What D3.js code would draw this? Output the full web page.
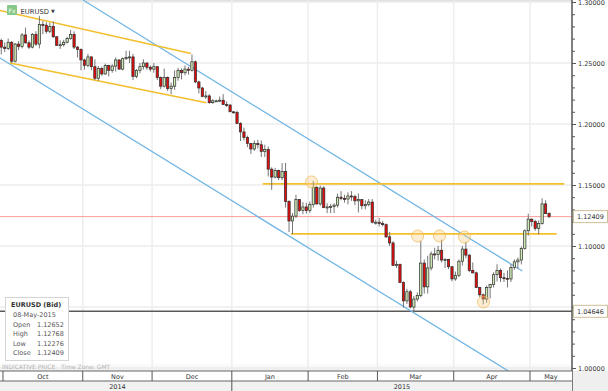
<!DOCTYPE html>
<html>
<head>
<meta charset="utf-8">
<script src="https://cdn.jsdelivr.net/npm/d3@7"></script>
<style>
  body { margin: 0; background: #fff; }
  svg { display: block; font-family: "DejaVu Sans", Verdana, sans-serif; }
</style>
</head>
<body>
<div id="chart"></div>
<script>
// ---- data ----
const symbol = "EURUSD";
const firstDay = "2014-09-30";
const lastDay = "2015-05-08";

// daily OHLC, one value per weekday from firstDay to lastDay
const opens = [
  1.2685, 1.2630, 1.2620, 1.2670, 1.2515, 1.2655, 1.2635, 1.2730, 1.2665, 1.2630,
  1.2735, 1.2655, 1.2815, 1.2810, 1.2760, 1.2800, 1.2715, 1.2645, 1.2650, 1.2670,
  1.2700, 1.2735, 1.2630, 1.2610, 1.2525, 1.2480, 1.2550, 1.2470, 1.2375, 1.2455,
  1.2410, 1.2480, 1.2440, 1.2475, 1.2525, 1.2450, 1.2535, 1.2545, 1.2550, 1.2390,
  1.2440, 1.2470, 1.2500, 1.2465, 1.2450, 1.2470, 1.2380, 1.2310, 1.2380, 1.2290,
  1.2310, 1.2380, 1.2440, 1.2420, 1.2450, 1.2440, 1.2510, 1.2345, 1.2295, 1.2225,
  1.2230, 1.2175, 1.2190, 1.2190, 1.2195, 1.2160, 1.2155, 1.2100, 1.2095, 1.2005,
  1.1935, 1.1890, 1.1840, 1.1795, 1.1840, 1.1830, 1.1775, 1.1790, 1.1630, 1.1565,
  1.1620, 1.1560, 1.1610, 1.1365, 1.1205, 1.1245, 1.1380, 1.1290, 1.1320, 1.1290,
  1.1340, 1.1480, 1.1345, 1.1475, 1.1315, 1.1320, 1.1325, 1.1335, 1.1400, 1.1390,
  1.1385, 1.1410, 1.1405, 1.1370, 1.1380, 1.1330, 1.1340, 1.1360, 1.1195, 1.1195,
  1.1185, 1.1175, 1.1075, 1.1025, 1.0840, 1.0850, 1.0700, 1.0550, 1.0625, 1.0500,
  1.0565, 1.0595, 1.0860, 1.0665, 1.0820, 1.0935, 1.0930, 1.0965, 1.0885, 1.0890,
  1.0830, 1.0730, 1.0760, 1.0875, 1.0975, 1.0925, 1.0800, 1.0780, 1.0660, 1.0600,
  1.0565, 1.0660, 1.0685, 1.0765, 1.0800, 1.0740, 1.0735, 1.0730, 1.0825, 1.0870,
  1.0885, 1.0980, 1.1125, 1.1220, 1.1200, 1.1145, 1.1185, 1.1345, 1.12652
];
const highs = [
  1.2700, 1.2668, 1.2700, 1.2680, 1.2665, 1.2680, 1.2745, 1.2790, 1.2685, 1.2745,
  1.2760, 1.2887, 1.2845, 1.2835, 1.2830, 1.2840, 1.2720, 1.2685, 1.2690, 1.2715,
  1.2770, 1.2760, 1.2640, 1.2620, 1.2535, 1.2575, 1.2555, 1.2530, 1.2475, 1.2470,
  1.2495, 1.2485, 1.2490, 1.2545, 1.2530, 1.2545, 1.2600, 1.2600, 1.2575, 1.2450,
  1.2500, 1.2530, 1.2505, 1.2480, 1.2500, 1.2475, 1.2390, 1.2455, 1.2390, 1.2340,
  1.2440, 1.2460, 1.2455, 1.2480, 1.2470, 1.2570, 1.2520, 1.2355, 1.2305, 1.2270,
  1.2245, 1.2205, 1.2200, 1.2225, 1.2245, 1.2185, 1.2165, 1.2105, 1.2110, 1.2015,
  1.1970, 1.1905, 1.1845, 1.1865, 1.1870, 1.1865, 1.1830, 1.1815, 1.1645, 1.1640,
  1.1625, 1.1680, 1.1680, 1.1375, 1.1270, 1.1420, 1.1385, 1.1360, 1.1355, 1.1365,
  1.1534, 1.1490, 1.1495, 1.1490, 1.1350, 1.1345, 1.1350, 1.1430, 1.1450, 1.1420,
  1.1440, 1.1450, 1.1420, 1.1430, 1.1385, 1.1375, 1.1385, 1.1385, 1.1215, 1.1230,
  1.1205, 1.1185, 1.1115, 1.1040, 1.0880, 1.0855, 1.0710, 1.0650, 1.0640, 1.0590,
  1.0620, 1.1043, 1.0890, 1.0920, 1.0955, 1.0985, 1.1000, 1.1052, 1.0900, 1.0895,
  1.0835, 1.0790, 1.0890, 1.1000, 1.1035, 1.0935, 1.0865, 1.0790, 1.0665, 1.0610,
  1.0675, 1.0690, 1.0785, 1.0850, 1.0815, 1.0780, 1.0800, 1.0850, 1.0890, 1.0905,
  1.0995, 1.1135, 1.1265, 1.1225, 1.1215, 1.1210, 1.1391, 1.1375, 1.12768
];
const lows = [
  1.2570, 1.2590, 1.2605, 1.2500, 1.2505, 1.2605, 1.2620, 1.2660, 1.2615, 1.2620,
  1.2640, 1.2620, 1.2735, 1.2740, 1.2745, 1.2705, 1.2640, 1.2615, 1.2635, 1.2660,
  1.2690, 1.2615, 1.2545, 1.2440, 1.2445, 1.2465, 1.2440, 1.2360, 1.2355, 1.2395,
  1.2405, 1.2390, 1.2420, 1.2430, 1.2445, 1.2440, 1.2525, 1.2500, 1.2360, 1.2375,
  1.2415, 1.2445, 1.2445, 1.2430, 1.2420, 1.2360, 1.2285, 1.2300, 1.2270, 1.2245,
  1.2280, 1.2355, 1.2365, 1.2400, 1.2405, 1.2430, 1.2335, 1.2250, 1.2220, 1.2205,
  1.2165, 1.2165, 1.2180, 1.2180, 1.2155, 1.2140, 1.2100, 1.2085, 1.2000, 1.1860,
  1.1865, 1.1810, 1.1755, 1.1780, 1.1800, 1.1730, 1.1730, 1.1570, 1.1460, 1.1555,
  1.1540, 1.1540, 1.1315, 1.1115, 1.1098, 1.1230, 1.1280, 1.1260, 1.1265, 1.1270,
  1.1315, 1.1340, 1.1330, 1.1310, 1.1270, 1.1270, 1.1270, 1.1315, 1.1375, 1.1355,
  1.1340, 1.1370, 1.1335, 1.1275, 1.1300, 1.1300, 1.1325, 1.1185, 1.1175, 1.1160,
  1.1160, 1.1065, 1.1000, 1.0840, 1.0820, 1.0695, 1.0495, 1.0525, 1.0490, 1.0462,
  1.0545, 1.0580, 1.0610, 1.0610, 1.0800, 1.0890, 1.0880, 1.0865, 1.0820, 1.0810,
  1.0710, 1.0715, 1.0745, 1.0840, 1.0900, 1.0785, 1.0775, 1.0655, 1.0580, 1.0521,
  1.0535, 1.0570, 1.0660, 1.0710, 1.0705, 1.0705, 1.0660, 1.0705, 1.0805, 1.0815,
  1.0850, 1.0970, 1.1085, 1.1160, 1.1125, 1.1095, 1.1175, 1.1265, 1.12276
];
const closes = [
  1.2630, 1.2620, 1.2670, 1.2515, 1.2655, 1.2635, 1.2730, 1.2665, 1.2630, 1.2735,
  1.2655, 1.2815, 1.2810, 1.2760, 1.2800, 1.2715, 1.2645, 1.2650, 1.2670, 1.2700,
  1.2735, 1.2630, 1.2610, 1.2525, 1.2480, 1.2550, 1.2470, 1.2375, 1.2455, 1.2410,
  1.2480, 1.2440, 1.2475, 1.2525, 1.2450, 1.2535, 1.2545, 1.2550, 1.2390, 1.2440,
  1.2470, 1.2500, 1.2465, 1.2450, 1.2470, 1.2380, 1.2310, 1.2380, 1.2290, 1.2310,
  1.2380, 1.2440, 1.2420, 1.2450, 1.2440, 1.2510, 1.2345, 1.2295, 1.2225, 1.2230,
  1.2175, 1.2190, 1.2190, 1.2195, 1.2160, 1.2155, 1.2100, 1.2095, 1.2005, 1.1935,
  1.1890, 1.1840, 1.1795, 1.1840, 1.1830, 1.1775, 1.1790, 1.1630, 1.1565, 1.1620,
  1.1560, 1.1610, 1.1365, 1.1205, 1.1245, 1.1380, 1.1290, 1.1320, 1.1290, 1.1340,
  1.1480, 1.1345, 1.1475, 1.1315, 1.1320, 1.1325, 1.1335, 1.1400, 1.1390, 1.1385,
  1.1410, 1.1405, 1.1370, 1.1380, 1.1330, 1.1340, 1.1360, 1.1195, 1.1195, 1.1185,
  1.1175, 1.1075, 1.1025, 1.0840, 1.0850, 1.0700, 1.0550, 1.0625, 1.0500, 1.0565,
  1.0595, 1.0860, 1.0665, 1.0820, 1.0935, 1.0930, 1.0965, 1.0885, 1.0890, 1.0830,
  1.0730, 1.0760, 1.0875, 1.0975, 1.0925, 1.0800, 1.0780, 1.0660, 1.0600, 1.0565,
  1.0660, 1.0685, 1.0765, 1.0800, 1.0740, 1.0735, 1.0730, 1.0825, 1.0870, 1.0885,
  1.0980, 1.1125, 1.1220, 1.1200, 1.1145, 1.1185, 1.1345, 1.1265, 1.12409
];

// hand drawn studies: [candle index, price, candle index, price]
const channelLines = [
  [-0.36, 1.2930, 54.7, 1.2578],
  [2.5, 1.2500, 59.2, 1.2175]
];
const trendLines = [
  [23.55, 1.3016, 150.3, 1.0795],
  [-0.36, 1.2541, 146.3, 0.9975]
];
// horizontal levels: [from index, to index, price]
const levelLines = [
  [75.4, 162.4, 1.1510],
  [83.5, 160.2, 1.1100]
];
// highlighted touches: [index, price]
const touchMarks = [
  [89.5, 1.1525], [120.1, 1.1082], [126.4, 1.1082], [133.6, 1.1074], [139.1, 1.0541]
];
const lastPrice = 1.12409;
const lowPrice = 1.04646;

class CandleChart {
  constructor(_config, _data) {
    this.config = {
      parentElement: _config.parentElement,
      containerWidth: 608,
      containerHeight: 391,
      plotRight: 572,
      plotBottom: 371,
      priceDomain: [1.0, 1.3],
      priceRange: [368, 2],
      xRange: [-0.47, 550.8]
    };
    this.data = _data;
    this.initVis();
  }

  initVis() {
    let vis = this;
    const c = vis.config;

    vis.x = d3.scaleLinear()
      .domain([-0.5, vis.data.length - 0.5])
      .range(c.xRange);
    vis.y = d3.scaleLinear().domain(c.priceDomain).range(c.priceRange);

    vis.svg = d3.select(c.parentElement).append("svg")
      .attr("width", c.containerWidth)
      .attr("height", c.containerHeight);

    const defs = vis.svg.append("defs");
    defs.append("clipPath").attr("id", "plot-clip")
      .append("rect")
      .attr("width", c.plotRight).attr("height", c.plotBottom);
    const top = defs.append("linearGradient").attr("id", "top-shade")
      .attr("x1", 0).attr("x2", 0).attr("y1", 0).attr("y2", 1);
    top.append("stop").attr("offset", 0).attr("stop-color", "#dcdcdc");
    top.append("stop").attr("offset", 1).attr("stop-color", "#f6f6f6");
    const bot = defs.append("linearGradient").attr("id", "bottom-shade")
      .attr("x1", 0).attr("x2", 0).attr("y1", 0).attr("y2", 1);
    bot.append("stop").attr("offset", 0).attr("stop-color", "#fff").attr("stop-opacity", 0);
    bot.append("stop").attr("offset", 1).attr("stop-color", "#ececec");

    vis.plot = vis.svg.append("g").attr("clip-path", "url(#plot-clip)");
    vis.renderVis();
  }

  renderVis() {
    let vis = this;
    const c = vis.config;
    const x = vis.x, y = vis.y;
    const step = x(1) - x(0);

    // month / year groups from the trading days
    const months = d3.groups(vis.data, (d) => d3.utcFormat("%Y-%m")(d.date))
      .map(([key, days]) => ({
        key,
        label: d3.utcFormat("%b")(days[0].date),
        year: days[0].date.getUTCFullYear(),
        start: x(days[0].i - 0.5),
        n: days.length
      }))
      .filter((m) => m.n > 3);
    months.forEach((m, k) => {
      m.end = k < months.length - 1 ? months[k + 1].start : c.plotRight;
    });
    const years = d3.groups(months, (m) => m.year).map(([year, ms]) => ({
      year, start: ms[0].start, end: ms[ms.length - 1].end
    }));

    // background bands
    vis.plot.append("rect").attr("width", c.plotRight).attr("height", 3)
      .attr("fill", "url(#top-shade)");
    vis.plot.append("rect").attr("y", c.plotBottom - 11)
      .attr("width", c.plotRight).attr("height", 11)
      .attr("fill", "url(#bottom-shade)");

    // grid
    vis.plot.append("g").selectAll("line")
      .data(y.ticks(6).filter((t) => t < 1.3))
      .join("line")
      .attr("x1", 0).attr("x2", c.plotRight)
      .attr("y1", (d) => y(d)).attr("y2", (d) => y(d))
      .attr("stroke", "#ededed").attr("stroke-width", 1.5);
    vis.plot.append("g").selectAll("line")
      .data(months.slice(1))
      .join("line")
      .attr("x1", (d) => d.start).attr("x2", (d) => d.start)
      .attr("y1", 0).attr("y2", c.plotBottom)
      .attr("stroke", "#ededed").attr("stroke-width", 1.5);

    // price reference lines
    vis.plot.append("line")
      .attr("x1", 0).attr("x2", c.plotRight)
      .attr("y1", y(lastPrice)).attr("y2", y(lastPrice))
      .attr("stroke", "#ff9d9d").attr("stroke-width", 1);
    vis.plot.append("line")
      .attr("x1", 0).attr("x2", c.plotRight)
      .attr("y1", y(lowPrice)).attr("y2", y(lowPrice))
      .attr("stroke", "#5a5a5a").attr("stroke-width", 1.5);

    // trend studies
    const seg = (g, rows, color, w) => g.selectAll("line")
      .data(rows).join("line")
      .attr("x1", (d) => x(d[0])).attr("y1", (d) => y(d[1]))
      .attr("x2", (d) => x(d[2])).attr("y2", (d) => y(d[3]))
      .attr("stroke", color).attr("stroke-width", w);
    seg(vis.plot.append("g"), trendLines, "#72b6e4", 1.3);
    seg(vis.plot.append("g"), channelLines, "#f3bf2c", 1.5);
    vis.plot.append("g").selectAll("line")
      .data(levelLines).join("line")
      .attr("x1", (d) => x(d[0])).attr("x2", (d) => x(d[1]))
      .attr("y1", (d) => y(d[2])).attr("y2", (d) => y(d[2]))
      .attr("stroke", "#f3bf2c").attr("stroke-width", 1.8);

    // candles
    const bodyW = step * 0.66;
    const candle = vis.plot.append("g").selectAll("g")
      .data(vis.data).join("g");
    candle.append("line")
      .attr("x1", (d) => x(d.i)).attr("x2", (d) => x(d.i))
      .attr("y1", (d) => y(d.high)).attr("y2", (d) => y(d.low))
      .attr("stroke", "#666").attr("stroke-width", 0.9);
    candle.append("rect")
      .attr("x", (d) => x(d.i) - bodyW / 2)
      .attr("width", bodyW)
      .attr("y", (d) => y(Math.max(d.open, d.close)))
      .attr("height", (d) => Math.max(1, Math.abs(y(d.open) - y(d.close))))
      .attr("fill", (d) => (d.close < d.open ? "#e60b0b" : "#cfe9b2"))
      .attr("stroke", "#2d2d2d").attr("stroke-width", 0.7);

    // touch circles
    vis.plot.append("g").selectAll("circle")
      .data(touchMarks).join("circle")
      .attr("cx", (d) => x(d[0])).attr("cy", (d) => y(d[1]))
      .attr("r", 6)
      .attr("fill", "rgba(250,205,130,0.35)")
      .attr("stroke", "rgba(240,185,90,0.75)").attr("stroke-width", 1);

    // footnote
    const foot = vis.svg.append("g").attr("fill", "#b4b4b4")
      .attr("font-size", "6px");
    foot.append("text").attr("x", 2).attr("y", 369).text("INDICATIVE PRICE");
    foot.append("text").attr("x", 61).attr("y", 369).text("Time Zone: GMT");

    // symbol badge
    const badge = vis.svg.append("g");
    badge.append("rect").attr("x", 7).attr("y", 5).attr("width", 10).attr("height", 10)
      .attr("rx", 1).attr("fill", "#86c886");
    badge.append("text").attr("x", 12).attr("y", 12.5).attr("text-anchor", "middle")
      .attr("font-size", "6px").attr("fill", "#fff").text("Fx");
    badge.append("text").attr("x", 20.5).attr("y", 13.5)
      .attr("font-size", "6.8px").attr("fill", "#333").text(symbol);
    badge.append("text").attr("x", 51).attr("y", 12.5)
      .attr("font-size", "5px").attr("fill", "#444").text("\u25BC");

    // price axis on the right
    const axisX = c.plotRight;
    const tags = [lastPrice, lowPrice];
    vis.svg.append("rect").attr("x", axisX).attr("y", c.plotBottom)
      .attr("width", c.containerWidth - axisX).attr("height", c.containerHeight - c.plotBottom)
      .attr("fill", "#efefef");
    const minorAxis = vis.svg.append("g")
      .attr("transform", `translate(${axisX},0)`)
      .call(d3.axisRight(y).ticks(30).tickSize(3).tickFormat(""));
    const majorAxis = vis.svg.append("g")
      .attr("transform", `translate(${axisX},0)`)
      .call(d3.axisRight(y).ticks(6).tickSize(4).tickPadding(2).tickFormat(d3.format(".5f")));
    [minorAxis, majorAxis].forEach((g) => {
      g.select(".domain").remove();
      g.selectAll(".tick line").attr("stroke", "#555");
    });
    majorAxis.selectAll("text").attr("fill", "#333")
      .attr("font-size", "6.5px").attr("font-family", "DejaVu Sans, sans-serif");
    // labels that sit under a price tag are hidden, as on the original
    majorAxis.selectAll(".tick")
      .filter((d) => tags.some((p) => Math.abs(y(p) - y(d)) < 9))
      .select("text").remove();
    vis.svg.append("line")
      .attr("x1", axisX).attr("x2", axisX).attr("y1", 0).attr("y2", c.containerHeight)
      .attr("stroke", "#555").attr("stroke-width", 1.5);

    // price tags
    const tag = vis.svg.append("g").selectAll("g")
      .data(tags).join("g")
      .attr("transform", (d) => `translate(${axisX + 1},${y(d)})`);
    tag.append("rect").attr("x", 0.5).attr("y", -6).attr("width", 34).attr("height", 12)
      .attr("fill", "#fff").attr("stroke", "#cdbf98").attr("stroke-width", 1);
    tag.append("text").attr("x", 4).attr("dy", "0.35em")
      .attr("font-size", "6.5px").attr("fill", "#333")
      .text((d) => d3.format(".5f")(d));

    // time axis: months and years
    const tAxis = vis.svg.append("g");
    tAxis.append("rect").attr("x", 0).attr("y", c.plotBottom + 10)
      .attr("width", axisX).attr("height", 10).attr("fill", "#f2f2f2");
    tAxis.append("rect").attr("x", 0).attr("y", c.plotBottom)
      .attr("width", axisX).attr("height", 10).attr("fill", "#fff");
    [c.plotBottom, c.plotBottom + 10].forEach((ly) => {
      tAxis.append("line").attr("x1", 0).attr("x2", axisX)
        .attr("y1", ly).attr("y2", ly)
        .attr("stroke", "#666").attr("stroke-width", 1);
    });
    tAxis.append("g").selectAll("line").data(months).join("line")
      .attr("x1", (d) => d.start).attr("x2", (d) => d.start)
      .attr("y1", c.plotBottom).attr("y2", c.plotBottom + 10)
      .attr("stroke", "#555").attr("stroke-width", 1);
    tAxis.append("g").selectAll("text").data(months).join("text")
      .attr("x", (d) => (d.start + d.end) / 2).attr("y", c.plotBottom + 7.5)
      .attr("text-anchor", "middle").attr("font-size", "6.5px").attr("fill", "#333")
      .text((d) => d.label);
    tAxis.append("g").selectAll("line").data(years.slice(1)).join("line")
      .attr("x1", (d) => d.start).attr("x2", (d) => d.start)
      .attr("y1", c.plotBottom + 10).attr("y2", c.containerHeight)
      .attr("stroke", "#555").attr("stroke-width", 1);
    tAxis.append("g").selectAll("text").data(years).join("text")
      .attr("x", (d) => (d.start + d.end) / 2).attr("y", c.plotBottom + 17.5)
      .attr("text-anchor", "middle").attr("font-size", "6.5px").attr("fill", "#333")
      .text((d) => d.year);

    // info box for the last candle
    const last = vis.data[vis.data.length - 1];
    const info = vis.svg.append("g").attr("transform", "translate(5,297)");
    info.append("rect").attr("x", 0.5).attr("y", 0.5).attr("width", 63).attr("height", 63)
      .attr("fill", "#fff").attr("stroke", "#d4d4d4");
    info.append("text").attr("x", 6).attr("y", 10)
      .attr("font-size", "6.5px").attr("font-weight", "bold").attr("fill", "#333")
      .text(`${symbol} (Bid)`);
    info.append("text").attr("x", 8).attr("y", 20)
      .attr("font-size", "6.5px").attr("fill", "#555")
      .text(d3.utcFormat("%d-%b-%Y")(last.date));
    const rows = [["Open", last.open], ["High", last.high], ["Low", last.low], ["Close", last.close]];
    const row = info.selectAll(".row").data(rows).join("g")
      .attr("class", "row")
      .attr("transform", (d, k) => `translate(0,${29.5 + k * 9.6})`);
    row.append("text").attr("x", 8).attr("font-size", "6.5px").attr("fill", "#555")
      .text((d) => d[0]);
    row.append("text").attr("x", 32).attr("font-size", "6.5px").attr("fill", "#555")
      .text((d) => d3.format(".5f")(d[1]));
  }
}

const tradingDays = d3.utcDay
  .range(new Date(firstDay), d3.utcDay.offset(new Date(lastDay), 1))
  .filter((d) => d.getUTCDay() % 6 !== 0);
const candles = tradingDays.map((date, i) => ({
  date, i, open: opens[i], high: highs[i], low: lows[i], close: closes[i]
}));

new CandleChart({ parentElement: "#chart" }, candles);
</script>
</body>
</html>
